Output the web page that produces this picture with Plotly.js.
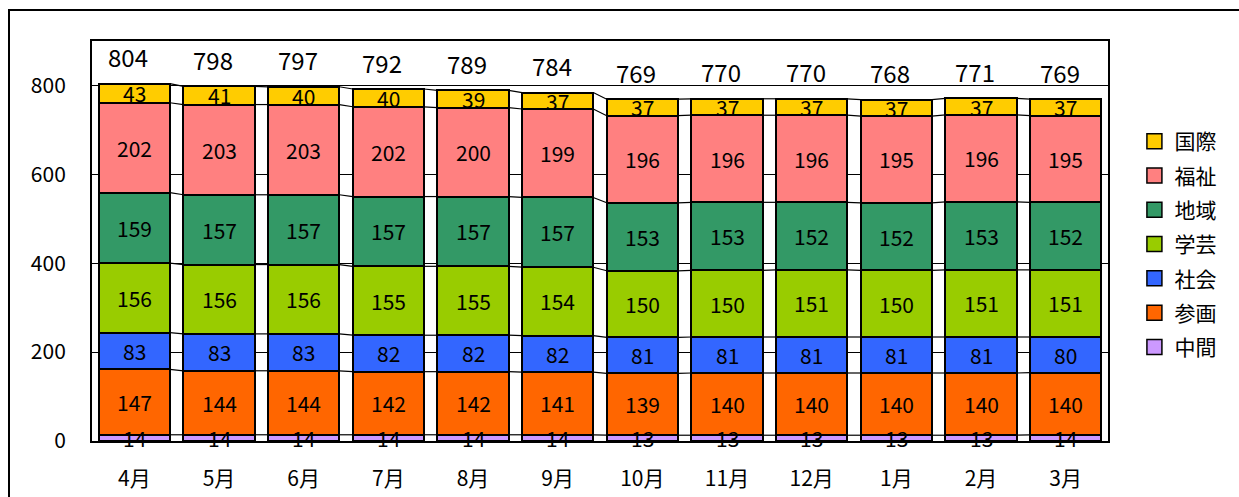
<!DOCTYPE html>
<html>
<head>
<meta charset="utf-8">
<script src="https://cdn.plot.ly/plotly-3.0.1.min.js"></script>
<style>
  html, body { margin: 0; padding: 0; background: #fff; overflow: hidden; }
  #wrap { position: relative; width: 1239px; height: 497px; }
  #chart { position: absolute; left: 0; top: 0; width: 1239px; height: 497px; }
  #frame { position: absolute; left: 8px; top: 9px; width: 1300px; height: 600px;
           border: 2px solid #000; pointer-events: none; }
</style>
</head>
<body>
<div id="wrap">
  <div id="chart"></div>
  <div id="frame"></div>
</div>
<script>
const months = ["4月","5月","6月","7月","8月","9月","10月","11月","12月","1月","2月","3月"];

// stacked from bottom to top
const chukan  = [14,14,14,14,14,14,13,13,13,13,13,14];
const sankaku = [147,144,144,142,142,141,139,140,140,140,140,140];
const shakai  = [83,83,83,82,82,82,81,81,81,81,81,80];
const gakugei = [156,156,156,155,155,154,150,150,151,150,151,151];
const chiiki  = [159,157,157,157,157,157,153,153,152,152,153,152];
const fukushi = [202,203,203,202,200,199,196,196,196,195,196,195];
const kokusai = [43,41,40,40,39,37,37,37,37,37,37,37];
const totals  = [804,798,797,792,789,784,769,770,770,768,771,769];

const seriesNames  = ["中間","参画","社会","学芸","地域","福祉","国際"];
const seriesValues = [chukan, sankaku, shakai, gakugei, chiiki, fukushi, kokusai];
const seriesColors = ["#CC99FF","#FF6600","#3366FF","#99CC00","#339966","#FF8080","#FFCC00"];

const FONT = "'Noto Sans CJK JP', 'Noto Sans', sans-serif";
const xs = months.map((m, i) => i);
const W = 0.84;

const traces = [];
seriesValues.forEach((vals, k) => {
  traces.push({
    type: "bar",
    x: xs,
    y: vals,
    width: W,
    name: seriesNames[k],
    showlegend: false,
    marker: { color: seriesColors[k], line: { color: "#000", width: 2 } },
    hoverinfo: "name+y"
  });
});

// cumulative levels
const cum = [];
let run = xs.map(() => 0);
seriesValues.forEach(vals => {
  run = run.map((v, i) => v + vals[i]);
  cum.push(run.slice());
});

// series (connector) lines between stacked tops
const lx = [], ly = [];
cum.forEach(level => {
  for (let i = 0; i < xs.length - 1; i++) {
    lx.push(xs[i] + W / 2, xs[i + 1] - W / 2, null);
    ly.push(level[i], level[i + 1], null);
  }
});
traces.push({
  type: "scatter", mode: "lines", x: lx, y: ly,
  line: { color: "#000", width: 1.2 }, showlegend: false, hoverinfo: "skip"
});

// legend entries (top to bottom)
for (let k = seriesNames.length - 1; k >= 0; k--) {
  traces.push({
    type: "scatter", mode: "markers", x: [null], y: [null],
    name: seriesNames[k], legendgroup: seriesNames[k],
    marker: { symbol: "square", size: 15, color: seriesColors[k], line: { color: "#000", width: 1.5 } },
    hoverinfo: "skip"
  });
}

const annotations = [];
// segment value labels, centred in each segment
seriesValues.forEach((vals, k) => {
  vals.forEach((v, i) => {
    annotations.push({
      x: xs[i], y: cum[k][i] - v / 2, xref: "x", yref: "y",
      text: String(v), showarrow: false, yanchor: "middle", xanchor: "center",
      yshift: 0,
      font: { family: FONT, size: 21, color: "#000" }
    });
  });
});
// totals above the stacks
totals.forEach((t, i) => {
  annotations.push({
    x: xs[i], y: t, xref: "x", yref: "y",
    text: String(t), showarrow: false, yanchor: "middle", xanchor: "center",
    yshift: 27, xshift: -6,
    font: { family: FONT, size: 24, color: "#000" }
  });
});

const layout = {
  width: 1239, height: 497,
  margin: { l: 92, r: 131, t: 41, b: 56 },
  paper_bgcolor: "#fff", plot_bgcolor: "#fff",
  barmode: "stack",
  bargap: 0,
  showlegend: true,
  font: { family: FONT, size: 20, color: "#000" },
  xaxis: {
    range: [-0.5, 11.5],
    tickvals: xs, ticktext: months,
    showgrid: false, zeroline: false,
    showline: true, linecolor: "#000", linewidth: 2, mirror: true,
    ticks: "", ticklabelstandoff: 18,
    tickfont: { family: FONT, size: 21, color: "#000" }
  },
  yaxis: {
    range: [0, 900],
    tickvals: [0, 200, 400, 600, 800],
    showgrid: true, gridcolor: "#000", gridwidth: 1,
    zeroline: false,
    showline: true, linecolor: "#000", linewidth: 2, mirror: true,
    ticks: "", ticklabelstandoff: 20,
    tickfont: { family: FONT, size: 21, color: "#000" }
  },
  legend: {
    x: 1.026, xanchor: "left", y: 0.80, yanchor: "top",
    traceorder: "grouped", tracegroupgap: 4,
    font: { family: FONT, size: 21, color: "#000" },
    bgcolor: "rgba(0,0,0,0)", itemwidth: 30
  },
  annotations: annotations
};

Plotly.newPlot("chart", traces, layout, { displayModeBar: false, staticPlot: true });
</script>
</body>
</html>
